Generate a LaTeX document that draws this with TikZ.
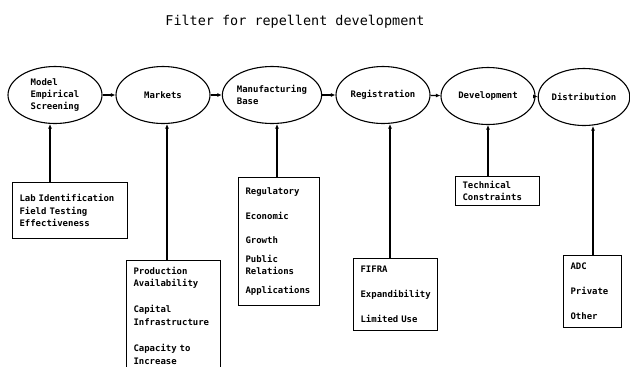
\documentclass[tikz,border=0pt]{standalone}
\usepackage{fontspec}
\setmonofont{DejaVu Sans Mono}
\usetikzlibrary{shapes.geometric,arrows.meta}
\tikzset{
  stage/.style={ellipse, draw, line width=1.1bp, inner sep=0pt, minimum width=94bp, minimum height=57bp, align=left, font=\ttfamily\bfseries\fontsize{9}{12.5}\selectfont},
  factor/.style={draw, line width=1.1bp, anchor=north west, inner xsep=7bp, inner ysep=0pt, align=left, font=\ttfamily\bfseries\fontsize{9}{12.5}\selectfont},
  link/.style={line width=1.1bp, -{Latex[length=4.5bp,width=4bp]}},
}
\begin{document}
\begin{tikzpicture}[x=1bp, y=-1bp]
\useasboundingbox (0,0) rectangle (630,366);
\node[font=\ttfamily\fontsize{13.5}{16}\selectfont] (title) at (295,22) {Filter for repellent development};
% stages
\node[stage] (model) at (55,95) {Model\\Empirical\\Screening};
\node[stage] (markets) at (163,95) {Markets};
\node[stage] (manuf) at (272,95) {Manufacturing\\Base};
\node[stage] (regis) at (383,95) {Registration};
\node[stage] (devel) at (488,96) {Development};
\node[stage, minimum width=90bp] (distr) at (584,97) {Distribution};
\draw[link] (model) -- (markets);
\draw[link] (markets) -- (manuf);
\draw[link] (manuf) -- (regis);
\draw[link] (regis) -- (devel);
\draw[link] (devel) -- (distr);
% factors
\node[factor, text width=101bp, minimum height=56bp] (lab) at (12,182) {Lab Identification\\Field Testing\\Effectiveness};
\node[factor, text width=80bp, minimum height=110bp] (prod) at (126,260) {Production\\Availability\\[14bp]Capital\\Infrastructure\\[14bp]Capacity to\\Increase};
\node[factor, text width=67bp, minimum height=128bp] (regul) at (238,177) {Regulatory\\[12bp]Economic\\[12bp]Growth\\[6bp]Public\\Relations\\[6bp]Applications};
\node[factor, text width=70bp, minimum height=72bp] (fifra) at (353,258) {FIFRA\\[12.5bp]Expandibility\\[12.5bp]Limited Use};
\node[factor, text width=70bp, minimum height=29bp] (tech) at (455,176) {Technical\\Constraints};
\node[factor, text width=44bp, minimum height=72bp] (adc) at (563,255) {ADC\\[12.5bp]Private\\[12.5bp]Other};
\draw[link] ([xshift=-5bp]lab.north -| model.south) -- ([xshift=-5bp]model.south);
\draw[link] ([xshift=4bp]prod.north -| markets.south) -- ([xshift=4bp]markets.south);
\draw[link] ([xshift=5bp]regul.north -| manuf.south) -- ([xshift=5bp]manuf.south);
\draw[link] ([xshift=7bp]fifra.north -| regis.south) -- ([xshift=7bp]regis.south);
\draw[link] (tech.north -| devel.south) -- (devel.south);
\draw[link] ([xshift=9bp]adc.north -| distr.south) -- ([xshift=9bp]distr.south);
\end{tikzpicture}
\end{document}
